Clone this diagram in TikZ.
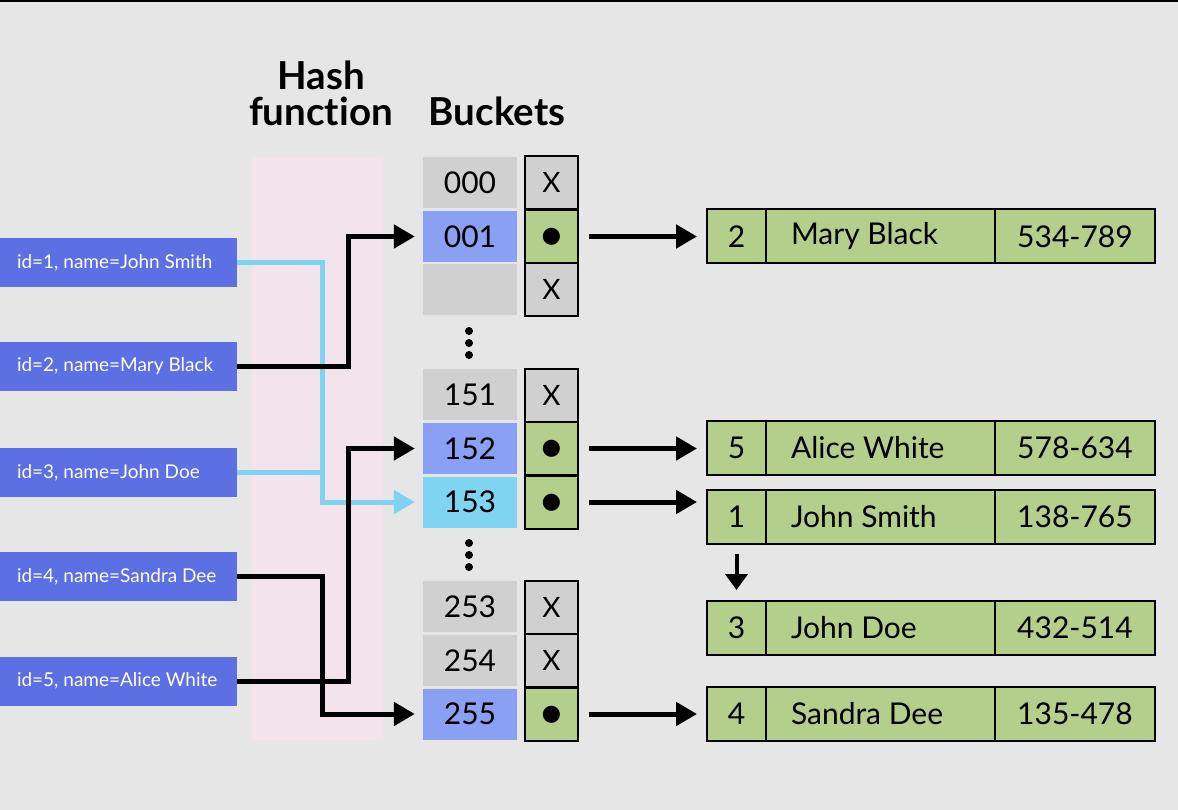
\documentclass[tikz,border=0pt]{standalone}
\usepackage{fontspec}
\setmainfont{Lato}[Ligatures=NoCommon]
\usetikzlibrary{arrows.meta}
\definecolor{bg}{HTML}{E6E6E6}
\definecolor{pinkband}{HTML}{F3E4EC}
\definecolor{inblue}{HTML}{5C6FE3}
\definecolor{bgray}{HTML}{D0D0D0}
\definecolor{bblue}{HTML}{8AA0F2}
\definecolor{bcyan}{HTML}{7FD5F1}
\definecolor{rgreen}{HTML}{B3CF8B}
\definecolor{lcyan}{HTML}{7DD3F0}
\newcommand{\inl}[1]{\makebox[203pt][l]{#1}}
\newcommand{\namel}[1]{\makebox[179pt][l]{#1}}
\newcommand{\ptrdot}{\raisebox{-14pt}[0pt][0pt]{\textbullet}}
\tikzset{
  inbox/.style={fill=inblue, text=white, minimum width=237pt, minimum height=49pt,
    inner xsep=17pt, inner ysep=0pt,
    font=\fontsize{19}{22}\selectfont},
  bucket/.style={fill=#1, minimum width=94pt, minimum height=51pt, inner sep=0pt,
    font=\fontsize{30}{32}\selectfont},
  ptr/.style={fill=#1, draw=black, line width=2pt, minimum width=53pt, minimum height=53pt,
    inner sep=0pt, font=\fontsize{28}{30}\selectfont},
  bul/.style={ptr=#1, font=\fontsize{46}{46}\selectfont},
  recnum/.style={fill=rgreen, draw=black, line width=2pt, minimum width=59pt, minimum height=54pt,
    inner sep=0pt, font=\fontsize{30}{32}\selectfont},
  recname/.style={fill=rgreen, draw=black, line width=2pt, minimum width=229pt, minimum height=54pt,
    inner xsep=25pt, inner ysep=0pt, font=\fontsize{30}{32}\selectfont},
  recphone/.style={fill=rgreen, draw=black, line width=2pt, minimum width=160pt, minimum height=54pt,
    inner sep=0pt, font=\fontsize{30}{32}\selectfont},
  title/.style={font=\fontsize{38.5}{40}\selectfont\bfseries, anchor=base, inner sep=0pt},
  link/.style={line width=5pt, -{Triangle[length=21pt,width=23pt]}},
  blink/.style={link, draw=black},
  clink/.style={link, draw=lcyan},
  dotsym/.style={circle, fill=black, inner sep=0pt, minimum size=8pt},
}
\begin{document}
\begin{tikzpicture}[x=1pt,y=-1pt]
\fill[bg] (0,0) rectangle (1178,810);
\useasboundingbox (0,0) rectangle (1178,810);
\fill[black] (0,0) rectangle (1178,2);
\fill[pinkband] (252,157) rectangle (383,740);

\node[title] (t1) at (321,90) {Hash};
\node[title] (t2) at (321,126) {function};
\node[title] (t3) at (497,126) {Buckets};

% inputs
\node[inbox] (in1) at (118.5,262.5) {\inl{id=1, name=John Smith}};
\node[inbox] (in2) at (118.5,366.5) {\inl{id=2, name=Mary Black}};
\node[inbox] (in3) at (118.5,472.5) {\inl{id=3, name=John Doe}};
\node[inbox] (in4) at (118.5,576.5) {\inl{id=4, name=Sandra Dee}};
\node[inbox] (in5) at (118.5,681) {\inl{id=5, name=Alice White}};

% buckets
\node[bucket=bgray] (b000) at (470,182.5) {000};
\node[bucket=bblue] (b001) at (470,236.5) {001};
\node[bucket=bgray] (b002) at (470,290) {};
\node[bucket=bgray] (b151) at (470,394.5) {151};
\node[bucket=bblue] (b152) at (470,448.5) {152};
\node[bucket=bcyan] (b153) at (470,502) {153};
\node[bucket=bgray] (b253) at (470,606.5) {253};
\node[bucket=bgray] (b254) at (470,660.5) {254};
\node[bucket=bblue] (b255) at (470,714) {255};

\node[dotsym] (d1) at (469,331) {};
\node[dotsym] (d2) at (469,343) {};
\node[dotsym] (d3) at (469,355) {};
\node[dotsym] (d4) at (469,543) {};
\node[dotsym] (d5) at (469,555) {};
\node[dotsym] (d6) at (469,567) {};

% pointers
\node[ptr=bgray] (p000) at (551.5,182.5) {X};
\node[bul=rgreen] (p001) at (551.5,236.5) {\ptrdot};
\node[ptr=bgray] (p002) at (551.5,289.5) {X};
\node[ptr=bgray] (p151) at (551.5,395) {X};
\node[bul=rgreen] (p152) at (551.5,448.5) {\ptrdot};
\node[bul=rgreen] (p153) at (551.5,502) {\ptrdot};
\node[ptr=bgray] (p253) at (551.5,607) {X};
\node[ptr=bgray] (p254) at (551.5,660.5) {X};
\node[bul=rgreen] (p255) at (551.5,714) {\ptrdot};

% records
\node[recnum] (r2n) at (736.5,236.5) {2};
\node[recname] (r2m) at (880.5,236.5) {\namel{Mary Black}};
\node[recphone] (r2p) at (1075,236.5) {534-789};
\node[recnum] (r5n) at (736.5,448) {5};
\node[recname] (r5m) at (880.5,448) {\namel{Alice White}};
\node[recphone] (r5p) at (1075,448) {578-634};
\node[recnum] (r1n) at (736.5,517) {1};
\node[recname] (r1m) at (880.5,517) {\namel{John Smith}};
\node[recphone] (r1p) at (1075,517) {138-765};
\node[recnum] (r3n) at (736.5,628) {3};
\node[recname] (r3m) at (880.5,628) {\namel{John Doe}};
\node[recphone] (r3p) at (1075,628) {432-514};
\node[recnum] (r4n) at (736.5,714) {4};
\node[recname] (r4m) at (880.5,714) {\namel{Sandra Dee}};
\node[recphone] (r4p) at (1075,714) {135-478};

% hash connectors
\draw[line width=5pt, lcyan] (in3.east) -- (322,472.5);
\draw[clink, shorten >=8pt] (in1.east) -| (322,502) -- (b153.west);
\draw[blink, shorten >=8pt] (in2.east) -| (348,236.5) -- (b001.west);
\draw[blink, shorten >=8pt] (in4.east) -| (322,714) -- (b255.west);
\draw[blink, shorten >=8pt] (in5.east) -| (348,448.5) -- (b152.west);

% pointer connectors
\draw[blink, shorten <=10pt, shorten >=9pt] (p001.east) -- (p001.east -| r2n.west);
\draw[blink, shorten <=10pt, shorten >=9pt] (p152.east) -- (p152.east -| r5n.west);
\draw[blink, shorten <=10pt, shorten >=9pt] (p153.east) -- (p153.east -| r1n.west);
\draw[blink, shorten <=10pt, shorten >=9pt] (p255.east) -- (p255.east -| r4n.west);
\draw[line width=4pt, -{Triangle[length=16pt,width=22pt]}, shorten <=9pt, shorten >=10pt] (r1n.south) -- (r3n.north);
\end{tikzpicture}
\end{document}
